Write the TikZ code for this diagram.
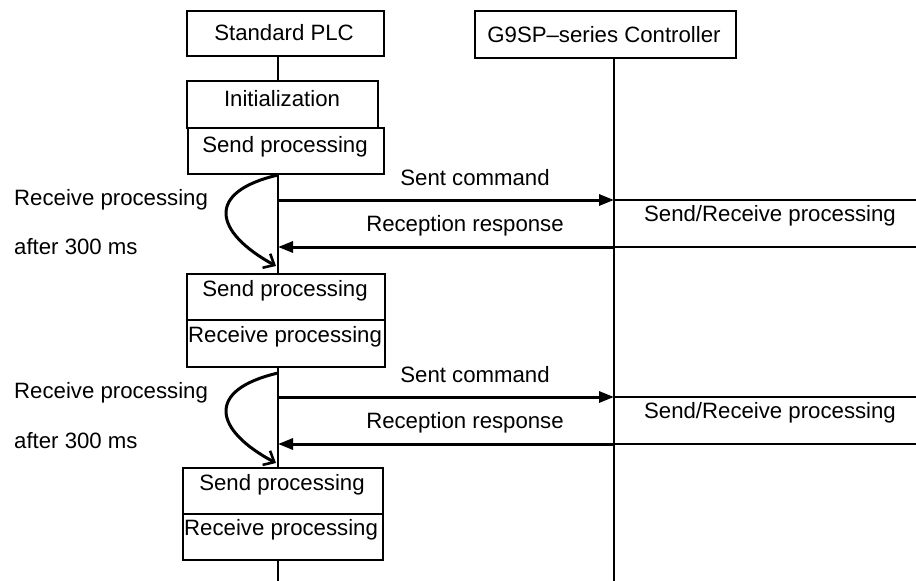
\documentclass[tikz,border=0pt]{standalone}
\usepackage{fontspec}
\setmainfont{Liberation Sans}
\usetikzlibrary{arrows.meta}
\begin{document}
\begin{tikzpicture}[x=1pt,y=-1pt,
  box/.style={draw, line width=1.6pt, inner sep=0pt, anchor=north west},
  txt/.style={inner sep=0pt, font=\fontsize{22.2}{26}\selectfont},
  life/.style={line width=1.6pt},
  msg/.style={line width=3pt, -{Triangle[length=15pt,width=11pt]}},
  loopa/.style={line width=3pt, -{Straight Barb[length=9pt,width=16pt,line width=2.6pt]}},
  thin/.style={line width=1.6pt}]
\useasboundingbox (0,0) rectangle (916,581);
% header boxes
\node[box, minimum width=197pt, minimum height=45pt] (plc) at (186,10) {};
\node[txt] (plct) at (284,33) {Standard PLC};
\node[box, minimum width=261pt, minimum height=47pt] (g9) at (474,10) {};
\node[txt] (g9t) at (604,35) {G9SP{\char"2013}series Controller};
% PLC boxes
\node[box, minimum width=191pt, minimum height=47pt] (init) at (186,80) {};
\node[txt] (initt) at (282,99) {Initialization};
\node[box, minimum width=196pt, minimum height=46pt] (send1) at (187,127) {};
\node[txt] (send1t) at (285,147) {Send processing};
\node[box, minimum width=198pt, minimum height=46pt] (send2) at (186,273) {};
\node[txt] (send2t) at (285,291) {Send processing};
\node[box, minimum width=198pt, minimum height=47pt] (recv2) at (186,319) {};
\node[txt, anchor=west] (recv2t) at (188,337) {Receive processing};
\node[box, minimum width=200pt, minimum height=46pt] (send3) at (182,467) {};
\node[txt] (send3t) at (282,485) {Send processing};
\node[box, minimum width=200pt, minimum height=46pt] (recv3) at (182,513) {};
\node[txt, anchor=west] (recv3t) at (184,530) {Receive processing};
% lifeline coordinates
\coordinate (pa0) at (278,55);  \coordinate (pa1) at (278,80);
\coordinate (pb0) at (278,173); \coordinate (pb1) at (278,273);
\coordinate (pc0) at (278,366); \coordinate (pc1) at (278,467);
\coordinate (pd0) at (278,559); \coordinate (pd1) at (278,581);
\coordinate (g0) at (614,57);   \coordinate (g1) at (614,581);
\draw[life] (pa0) -- (pa1);
\draw[life] (pb0) -- (pb1);
\draw[life] (pc0) -- (pc1);
\draw[life] (pd0) -- (pd1);
\draw[life] (g0) -- (g1);
% cycle 1
\coordinate (s1a) at (278,200); \coordinate (s1b) at (614,200);
\coordinate (r1a) at (614,247); \coordinate (r1b) at (278,247);
\coordinate (e1a) at (916,200); \coordinate (e1b) at (916,247);
\draw[msg] (s1a) -- (s1b);
\draw[msg] (r1a) -- (r1b);
\draw[thin] (s1b) -- (e1a);
\draw[thin] (r1a) -- (e1b);
\node[txt] (sc1) at (475,178) {Sent command};
\node[txt] (rr1) at (465,226) {Reception response};
\node[txt] (sr1) at (770,216) {Send/Receive processing};
\node[txt, anchor=west] (lr1) at (14,200) {Receive processing};
\node[txt, anchor=west] (la1) at (14,247) {after 300 ms};
\coordinate (c1a) at (278,175); \coordinate (c1b) at (276,266);
\draw[loopa] (c1a) .. controls (205,192) and (214,232) .. (c1b);
% cycle 2
\coordinate (s2a) at (278,397); \coordinate (s2b) at (614,397);
\coordinate (r2a) at (614,444); \coordinate (r2b) at (278,444);
\coordinate (e2a) at (916,397); \coordinate (e2b) at (916,444);
\draw[msg] (s2a) -- (s2b);
\draw[msg] (r2a) -- (r2b);
\draw[thin] (s2b) -- (e2a);
\draw[thin] (r2a) -- (e2b);
\node[txt] (sc2) at (475,375) {Sent command};
\node[txt] (rr2) at (465,423) {Reception response};
\node[txt] (sr2) at (770,413) {Send/Receive processing};
\node[txt, anchor=west] (lr2) at (14,393) {Receive processing};
\node[txt, anchor=west] (la2) at (14,441) {after 300 ms};
\coordinate (c2a) at (278,373); \coordinate (c2b) at (276,463);
\draw[loopa] (c2a) .. controls (205,390) and (214,430) .. (c2b);
\end{tikzpicture}
\end{document}
